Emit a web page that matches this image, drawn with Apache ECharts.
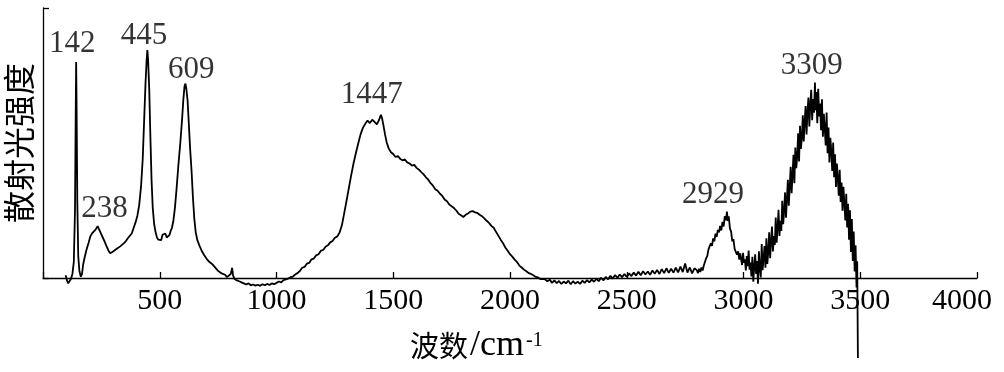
<!DOCTYPE html>
<html>
<head>
<meta charset="utf-8">
<script src="https://cdn.jsdelivr.net/npm/echarts@6/dist/echarts.min.js"></script>
<style>
html,body{margin:0;padding:0;background:#fff;}
#chart{width:1004px;height:372px;}
</style>
</head>
<body>
<div id="chart"></div>
<script>
// ---- data (wavenumber cm^-1, relative intensity) ----
var lowBand = [
[97,1],[103,-1],[108,-2],[114,-1.5],[120,-0.3],[126,1.5],[132,6],[137,25],[140,60],[142,80],[144,62],[147,28],[151,8],[156,2.5],[162,0.5],[167,1.5],[172,5],
[178,7.5],[186,10.4],[195,13],[203,15.5],[210,16.5],[218,17],[226,18],[234,19.2],[240,19],[248,16.5],[256,15],[264,13.5],[272,11.8],[280,10.2],[288,9.2],[294,8.8],
[300,9.8],[308,9.5],[316,10.8],[324,11.2],[332,11.8],[340,12.3],[348,13],[356,13.8],[364,14.8],[372,15.5],[380,16.5],[388,18.5],[396,20.5],
[404,23],[412,27],[420,34],[427,44],[433,58],[439,72],[444,81],[447,84.4],[450,81],[455,70],[460,52],[465,36],[470,26],[476,20],[482,17],[488,15],[494,14.2],
[500,14.6],[506,14],[512,16],[518,15.5],[524,16.5],[530,15],[536,14.5],[542,16],[547,17.5],[552,18.5],[558,21],[565,26],[572,33],[580,42],[588,50],[595,58],
[601,66],[606,71],[610,72],[614,70],[619,66],[624,58],[630,48],[636,40],[642,30],[648,22],[654,17],[661,14],[670,12],[680,10],[690,8.5],[700,7.2],[712,6],
[724,5.2],[736,4],[748,2.8],[760,2],[770,1.5],[780,1.2],[788,0.3],[796,0.8],[804,1.5],[810,3.8],[814,1]
];
var midBand = [
[820,-0.3],[830,-0.9],[840,-1.2],[850,-1.6],[860,-2],[870,-2.4],[880,-2],[890,-2.7],[900,-2.4],[910,-2.8],[920,-2.5],[930,-2.9],[940,-2.3],[950,-2.7],
[960,-2.2],[970,-2.6],[980,-2],[990,-2.3],[1000,-1.8],[1010,-1.3],[1020,-1.6],[1030,-0.8],[1040,-0.5],[1050,-0.2],[1060,0.3],[1070,0.5],[1080,1.3],[1090,1.8],
[1100,2.6],[1110,3.8],[1120,4.1],[1130,5.3],[1140,5.6],[1150,6.9],[1160,7.2],[1170,8.4],[1180,8.8],[1190,10.1],[1200,10.4],[1210,11.6],[1220,12.1],[1230,13.2],
[1240,13.7],[1250,14.9],[1260,15.4],[1270,16.8],[1280,19.5],[1290,24],[1300,28.6],[1310,33.4],[1320,38.1],[1330,42.5],[1340,46.3],[1350,49.8],[1360,53.2],
[1370,55.6],[1380,57.1],[1390,58.3],[1400,57.4],[1410,58.6],[1420,57.8],[1430,56.9],[1440,58.7],[1447,60.4],[1452,59.2],[1458,56.5],[1465,53.1],[1472,50.2],
[1480,48.1],[1490,46.6],[1500,45.9],[1510,44.8],[1520,45.2],[1530,44.1],[1540,43.6],[1550,43.9],[1560,42.8],[1570,42.4],[1580,41.6],[1590,41.9],[1600,40.8],
[1610,40.1],[1620,39.2],[1630,38.4],[1640,37.3],[1650,36.4],[1660,35.1],[1670,34.2],[1680,32.9],[1690,32.3],[1700,31.2],[1710,30.4],[1720,29.1],[1730,28.4],
[1740,27.2],[1750,26.6],[1760,25.9],[1770,25],[1780,23.8],[1790,23.2],[1800,22.6],[1810,23.4],[1820,23.9],[1830,24.6],[1840,24.8],[1850,24.3],[1860,24.1],
[1870,23.4],[1880,22.9],[1890,22.1],[1900,21.2],[1910,20.4],[1920,19.3],[1930,18.6],[1940,17.1],[1950,15.7],[1960,14.2],[1970,12.9],[1980,11.3],[1990,10.1],
[2000,8.8],[2010,7.9],[2020,6.8],[2030,5.9],[2040,4.6],[2050,3.9],[2060,3.1],[2070,2.5],[2080,1.8],[2090,1.5],[2100,1],[2110,0.4],[2120,0.2],[2130,-0.4],[2140,-0.3]
];
var baseBand = [
[2150,-0.5],[2160,-1.2],[2170,-0.6],[2180,-1.8],[2190,-0.9],[2200,-1.9],[2210,-1.1],[2220,-2.2],[2230,-1.3],[2240,-2],[2250,-1],[2260,-2.3],[2270,-1.2],
[2280,-2.1],[2290,-1.4],[2300,-2.2],[2310,-1],[2320,-1.8],[2330,-0.8],[2340,-1.6],[2350,-0.6],[2360,-1.4],[2370,-0.3],[2380,-1.2],[2390,0.1],[2400,-0.9],
[2410,0.4],[2420,-0.5],[2430,0.8],[2440,-0.2],[2450,1.1],[2460,0.1],[2470,1.3],[2480,0.3],[2490,1.5],[2500,0.4],[2510,1.7],[2520,0.7],[2530,2],[2540,0.9],
[2550,2.3],[2560,1],[2570,2.5],[2580,1.3],[2590,2.4],[2600,1.2],[2610,2.8],[2620,1.6],[2630,3],[2640,1.5],[2650,3.3],[2660,1.8],[2670,3.6],[2680,1.9],
[2690,3.4],[2700,2],[2710,3.8],[2720,2.1],[2730,4.2],[2740,2.2],[2750,5.4],[2760,2],[2770,3.9],[2780,1.7],[2790,3.6]
];
var chBand = [
[2800,2.9],[2805,1.8],[2810,3.4],[2815,2.2],[2820,3.9],[2825,2.8],[2830,4.6],[2835,5.1],[2840,7.3],[2845,8.2],[2850,10.6],[2855,10.1],[2860,12.8],[2865,11.9],
[2870,14.7],[2875,13.6],[2880,16.4],[2885,15.2],[2890,17.8],[2895,16.9],[2900,19.3],[2905,17.6],[2910,20.8],[2915,19.1],[2920,22.9],[2925,21.4],[2929,24.6],
[2933,21.1],[2937,22.8],[2942,18.3],[2947,17.2],[2952,13.6],[2957,14.4],[2962,10.8],[2967,11.5],[2972,8.6],[2977,9.9],[2982,6.8],[2986,9.1]
];
var ohBand = [
[2990,8.5],[2994,4.8],[2998,9.3],[3002,5.6],[3006,6.9],[3010,2.8],[3014,8.1],[3018,4.4],[3022,10.2],[3026,3.1],[3030,5.7],[3034,0.6],[3038,7.9],[3042,-1.4],
[3046,4.2],[3050,8.8],[3054,1.5],[3058,6.3],[3062,-2.1],[3066,9.9],[3070,3.4],[3074,0.2],[3078,12.6],[3082,2.9],[3086,7.4],[3090,11.8],[3094,3.8],[3098,14.7],
[3102,5.2],[3106,9.6],[3110,16.9],[3114,7.3],[3118,13.4],[3122,19.1],[3126,9.8],[3130,15.5],[3134,12.2],[3138,22.4],[3142,13.1],[3146,18.7],[3150,25.3],
[3154,15.6],[3158,21.2],[3162,17.4],[3166,28.6],[3170,19.9],[3174,24.8],[3178,31.7],[3182,22.3],[3186,29.5],[3190,36.4],[3194,26.8],[3198,33.9],[3202,41.2],
[3206,31.4],[3210,38.2],[3214,45.6],[3218,35.1],[3222,48.3],[3226,40.7],[3230,44.9],[3234,53.6],[3238,43.2],[3242,56.4],[3246,47.8],[3250,52.1],[3254,60.3],
[3258,50.6],[3262,57.9],[3266,63.7],[3270,53.2],[3274,61.5],[3278,66.8],[3282,56.1],[3286,64.2],[3290,69.7],[3294,58.4],[3298,66.3],[3302,61.2],[3306,72.4],
[3309,62.1],[3312,68.9],[3316,57.3],[3320,70.1],[3324,59.8],[3328,64.6],[3332,54.7],[3336,66.2],[3340,52.3],[3344,60.8],[3348,55.4],[3352,49.1],[3356,61.3],
[3360,46.2],[3364,55.7],[3368,42.8],[3372,51.9],[3376,47.1],[3380,39.6],[3384,50.2],[3388,37.3],[3392,45.8],[3396,33.7],[3400,42.4],[3404,36.9],[3408,30.5],
[3412,40.1],[3416,28.2],[3420,35.4],[3424,24.9],[3428,33.8],[3432,27.6],[3436,21.3],[3440,31.2],[3444,18.7],[3448,27.5],[3452,14.2],[3456,25.1],[3460,9.6],
[3464,21.8],[3468,6.3],[3472,17.2],[3476,2.4],[3480,12.1],[3484,-3.5],[3487,6.2],[3490,-29.6]
];
var peakNames = ['142','238','445','609','1447','2929','3309'];
var peakX = [142, 238, 445, 609, 1447, 2929, 3309];
var peakY = [80, 19, 84.4, 72, 60.4, 24.6, 72];
var xTicks = [500, 1000, 1500, 2000, 2500, 3000, 3500, 4000];
var xNameCn = '波数';
var xNameUnit = '/cm';
var xNameSup = '-1';
var yName = '散射光强度';

// label offsets (style only)
var peakOffsets = [[-4,-18],[6,-18],[-3,-14],[6,-14],[-9,-20],[-14,-17],[-4,-18]];

var spectrum = [].concat(lowBand, midBand, baseBand, chBand, ohBand);
var peakData = peakNames.map(function (n, i) {
  return {
    name: n,
    value: [peakX[i], peakY[i]],
    label: { offset: peakOffsets[i] }
  };
});

var serif = '"Liberation Serif","Times New Roman",serif';
var chart = echarts.init(document.getElementById('chart'), null, { renderer: 'canvas' });
chart.setOption({
  animation: false,
  backgroundColor: '#fff',
  grid: { left: 43, right: 27, top: 8, bottom: 94, containLabel: false, outerBoundsMode: 'none' },
  xAxis: {
    type: 'value', min: 0, max: 4000, interval: 500,
    axisLine: { lineStyle: { color: '#000', width: 1.3 } },
    axisTick: { inside: true, length: 6, lineStyle: { color: '#000', width: 1.3 } },
    splitLine: { show: false },
    axisLabel: {
      margin: 8, color: '#000', fontFamily: serif, fontSize: 30,
      formatter: function (v) {
        if (xTicks.indexOf(v) < 0) return '';
        if (v === 4000) return '{r|' + v + '}';
        return String(v);
      },
      rich: { r: { fontFamily: serif, fontSize: 30, color: '#000', padding: [0, 30, 0, 0] } }
    }
  },
  yAxis: {
    type: 'value', min: 0, max: 100, interval: 100,
    name: yName, nameLocation: 'middle', nameRotate: 90, nameGap: 8,
    nameTextStyle: { fontFamily: '"Noto Sans CJK SC"', fontSize: 32, color: '#000' },
    axisLine: { show: true, lineStyle: { color: '#000', width: 1.3 } },
    axisTick: { show: true, inside: true, length: 6, lineStyle: { color: '#000', width: 1.3 } },
    axisLabel: { show: false },
    splitLine: { show: false }
  },
  graphic: [{
    type: 'text', left: 410, top: 328, silent: true,
    style: {
      text: '{a|' + xNameCn + '}{b|' + xNameUnit + '}{c|' + xNameSup + '}',
      rich: {
        a: { fontFamily: '"Noto Sans CJK SC"', fontSize: 29, color: '#000', lineHeight: 34 },
        b: { fontFamily: serif, fontSize: 36, color: '#000', lineHeight: 34, padding: [0, 0, 0, 2] },
        c: { fontFamily: serif, fontSize: 20, color: '#000', verticalAlign: 'top', lineHeight: 20, padding: [2, 0, 0, 2] }
      }
    }
  }],
  series: [{
    type: 'line', data: spectrum, showSymbol: false, clip: false, silent: true,
    lineStyle: { color: '#000', width: 1.8 }
  }, {
    type: 'scatter', data: peakData, symbolSize: 0, silent: true, clip: false,
    label: {
      show: true, position: 'inside', formatter: '{b}',
      fontFamily: serif, fontSize: 31, color: '#000'
    }
  }]
});
</script>
</body>
</html>
